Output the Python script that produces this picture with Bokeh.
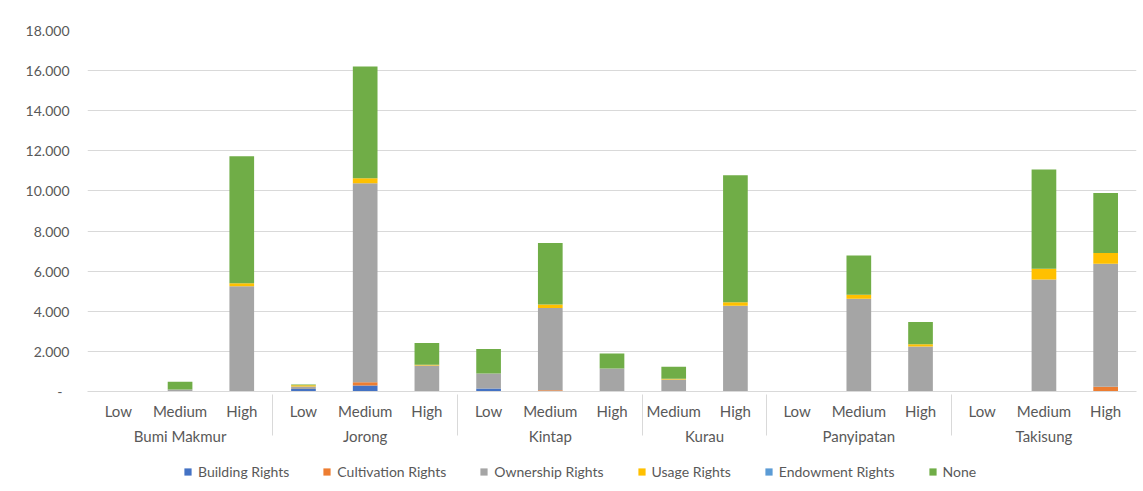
from bokeh.plotting import figure
from bokeh.layouts import column
from bokeh.models import FactorRange, CustomJSTickFormatter, Legend, LegendItem, ColumnDataSource
from bokeh.embed import file_html
from bokeh.resources import INLINE

districts = ["Bumi Makmur"] * 3 + ["Jorong"] * 3 + ["Kintap"] * 3 + ["Kurau"] * 2 + ["Panyipatan"] * 3 + ["Takisung"] * 3
levels = ["Low", "Medium", "High", "Low", "Medium", "High", "Low", "Medium", "High",
          "Medium", "High", "Low", "Medium", "High", "Low", "Medium", "High"]

building = [0, 0, 0, 130, 300, 0, 150, 0, 0, 0, 0, 0, 0, 0, 0, 0, 0]
cultivation = [0, 0, 0, 0, 165, 0, 0, 60, 0, 0, 0, 0, 0, 0, 0, 0, 235]
ownership = [0, 100, 5250, 120, 9920, 1300, 750, 4100, 1150, 600, 4280, 0, 4620, 2250, 0, 5585, 6135]
usage = [0, 0, 150, 60, 250, 40, 0, 180, 0, 30, 170, 0, 200, 100, 0, 535, 530]
endowment = [0] * 17
none = [0, 380, 6335, 40, 5565, 1080, 1220, 3060, 740, 600, 6335, 0, 1965, 1110, 0, 4950, 3000]

series = ["Building Rights", "Cultivation Rights", "Ownership Rights", "Usage Rights", "Endowment Rights", "None"]
colors = ["#4472C4", "#ED7D31", "#A5A5A5", "#FFC000", "#5B9BD5", "#70AD47"]

x = list(zip(districts, levels))
source = ColumnDataSource(dict(x=x, b=building, c=cultivation, o=ownership, u=usage, e=endowment, n=none))
keys = ["b", "c", "o", "u", "e", "n"]

FONT = "Lato"
TXT = "#595959"

p = figure(x_range=FactorRange(*x, group_padding=0, range_padding=0),
           y_range=(0, 18000), width=1143, height=461,
           output_backend="svg", toolbar_location=None,
           min_border_left=87, min_border_right=7, min_border_top=30, min_border_bottom=70)

rs = p.vbar_stack(keys, x="x", width=0.4, color=colors, line_color=None, source=source)

p.outline_line_color = None
p.xgrid.grid_line_color = None
p.ygrid.grid_line_color = "#D9D9D9"

p.yaxis.axis_line_color = None
p.yaxis.major_tick_line_color = None
p.yaxis.minor_tick_line_color = None
p.yaxis.major_label_text_font = FONT
p.yaxis.major_label_text_font_size = "14px"
p.yaxis.major_label_text_color = TXT
p.yaxis.major_label_standoff = 12
p.yaxis.ticker = [0, 2000, 4000, 6000, 8000, 10000, 12000, 14000, 16000, 18000]
p.yaxis.formatter = CustomJSTickFormatter(code=r"""
if (tick == 0) { return '-\u00a0\u00a0'; }
return tick.toString().replace(/\B(?=(\d{3})+(?!\d))/g, '.');
""")

xa = p.xaxis[0]
xa.axis_line_color = "#D9D9D9"
xa.major_tick_line_color = None
xa.minor_tick_line_color = None
xa.major_label_text_font = FONT
xa.major_label_text_font_size = "15px"
xa.major_label_text_color = TXT
xa.group_text_font = FONT
xa.group_text_font_size = "15px"
xa.group_text_color = TXT
xa.group_text_font_style = "normal"
xa.separator_line_color = "#D9D9D9"
xa.separator_line_width = 1
xa.major_label_standoff = 4

# legend strip underneath the chart (swatch renderers sit outside the visible range)
lf = figure(width=1143, height=30, x_range=(0, 1), y_range=(0, 1),
            x_axis_location=None, y_axis_location=None,
            output_backend="svg", toolbar_location=None,
            min_border_left=0, min_border_right=0, min_border_top=0, min_border_bottom=0)
lf.grid.visible = False
lf.outline_line_color = None
swatches = [lf.vbar(x=[-5], top=[-5], bottom=[-6], width=0.1, color=c, line_color=None) for c in colors]
items = [LegendItem(label=s, renderers=[r]) for s, r in zip(series, swatches)]
legend = Legend(items=items, orientation="horizontal", location=(96, 11),
                label_text_font=FONT, label_text_font_size="14px", label_text_color=TXT,
                glyph_width=9, glyph_height=9, label_standoff=6, spacing=33,
                border_line_color=None, background_fill_alpha=0, padding=0, margin=0)
lf.add_layout(legend, "center")

layout = column(p, lf, spacing=0)
open("out.html", "w").write(file_html(layout, INLINE))
